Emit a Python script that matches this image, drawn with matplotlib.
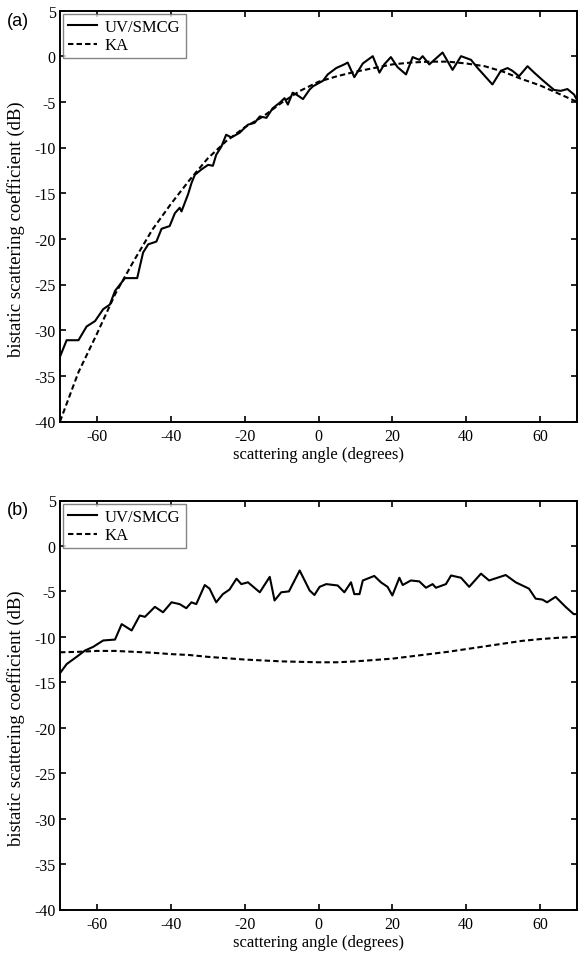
import matplotlib
matplotlib.use("Agg")
import matplotlib.pyplot as plt

plt.rcParams['font.family'] = ['Liberation Serif', 'DejaVu Serif']

# ---------------- Panel (a) ----------------
a_uv_angle = [-70, -68.2, -65, -62.8, -60.5, -58.3, -56.5, -55.1, -52.4, -49.1, -47.5, -46.1,
              -43.9, -42.5, -40.3, -38.9, -37.6, -37.1, -35.3, -34.4, -33.5, -31.7, -29.9,
              -28.6, -27.7, -26.3, -25.0, -23.6, -21.4, -19.1, -17.3, -15.9, -14.1, -12.4,
              -10.5, -9.2, -8.3, -7.0, -6.0, -4.2, -2.4, -1.5, 1.2, 2.5, 4.8, 7.0, 7.9, 9.7,
              12.0, 14.7, 16.5, 17.8, 19.6, 21.4, 23.7, 25.5, 27.3, 28.2, 30.0, 33.6, 36.3,
              38.6, 41.3, 43.1, 47.1, 49.4, 51.2, 52.5, 54.3, 56.6, 58.4, 60.6, 63.8, 65.6,
              67.4, 69.2, 70]
a_uv_db = [-32.9, -31.1, -31.1, -29.6, -29.0, -27.7, -27.2, -25.7, -24.3, -24.3, -21.5, -20.6,
           -20.3, -18.9, -18.6, -17.2, -16.6, -17.0, -15.1, -13.9, -13.0, -12.4, -11.9,
           -12.0, -10.8, -9.9, -8.6, -8.9, -8.4, -7.5, -7.3, -6.6, -6.75, -5.7,
           -5.1, -4.6, -5.3, -4.0, -4.2, -4.7, -3.65, -3.3, -2.7, -2.0, -1.3, -0.9, -0.7, -2.3,
           -0.8, 0.0, -1.8, -0.9, -0.1, -1.2, -2.0, -0.1, -0.4, 0.0, -0.9, 0.4, -1.5,
           0.0, -0.4, -1.3, -3.1, -1.6, -1.3, -1.6, -2.2, -1.1, -1.8, -2.6, -3.7, -3.8,
           -3.6, -4.2, -4.8]

a_ka_angle = [-70, -65, -60, -55, -50, -45, -40, -35, -30, -25, -20, -15, -10, -5, 0, 5, 10,
              15, 20, 25, 30, 35, 40, 45, 50, 55, 60, 65, 70]
a_ka_db = [-40.0, -34.6, -30.4, -26.0, -22.4, -19.0, -16.2, -13.6, -11.2, -9.3, -7.8, -6.6,
           -5.1, -3.8, -2.8, -2.2, -1.7, -1.3, -0.9, -0.7, -0.6, -0.6, -0.8, -1.1, -1.7,
           -2.5, -3.2, -4.1, -5.0]

# ---------------- Panel (b) ----------------
b_uv_angle = [-70, -68.2, -65.5, -63.2, -61.0, -58.3, -55.1, -53.3, -50.6, -48.4, -47.0, -44.3,
              -42.1, -39.8, -37.6, -35.8, -34.4, -33.1, -30.8, -29.5, -27.7, -25.9, -24.1,
              -22.2, -20.9, -19.1, -15.9, -13.2, -11.9, -10.1, -8.0, -5.1, -2.4, -1.1, 0.3,
              2.1, 5.2, 7.0, 8.8, 9.7, 11.1, 12.0, 15.1, 16.9, 18.7, 20.0, 21.9, 22.8, 25.0,
              27.3, 29.1, 30.9, 31.8, 34.5, 35.9, 38.6, 40.8, 44.0, 46.2, 50.7, 53.4, 57.0,
              58.8, 60.6, 61.9, 64.2, 66.9, 69.1, 70]
b_uv_db = [-14.0, -13.0, -12.2, -11.5, -11.1, -10.4, -10.3, -8.6, -9.3, -7.65, -7.8, -6.7,
           -7.3, -6.2, -6.4, -6.85, -6.2, -6.4, -4.3, -4.7, -6.2, -5.3, -4.8,
           -3.6, -4.2, -4.0, -5.1, -3.4, -6.0, -5.1, -5.0, -2.7, -4.9, -5.4, -4.5,
           -4.2, -4.35, -5.1, -4.0, -5.3, -5.3, -3.8, -3.3, -4.0, -4.5, -5.45, -3.5, -4.3, -3.8,
           -3.9, -4.6, -4.2, -4.6, -4.2, -3.25, -3.5, -4.5, -3.05, -3.8, -3.2, -4.0, -4.7,
           -5.8, -5.9, -6.2, -5.6, -6.7, -7.5, -7.5]

b_ka_angle = [-70, -65, -60, -55, -50, -45, -40, -35, -30, -25, -20, -15, -10, -5, 0, 5, 10,
              15, 20, 25, 30, 35, 40, 45, 50, 55, 60, 65, 70]
b_ka_db = [-11.7, -11.65, -11.55, -11.55, -11.65, -11.75, -11.9, -12.0, -12.2, -12.35, -12.5,
           -12.6, -12.7, -12.75, -12.8, -12.8, -12.7, -12.55, -12.4, -12.15, -11.9, -11.65,
           -11.35, -11.05, -10.75, -10.45, -10.25, -10.1, -10.0]

x_ticks = [-60, -40, -20, 0, 20, 40, 60]
y_ticks = [-40, -35, -30, -25, -20, -15, -10, -5, 0, 5]
y_ticklabels = ['-40', '-35', '-30', '-25', '-20', '-15', '-10', '-5', '0', '5']
x_ticklabels = ['-60', '-40', '-20', '0', '20', '40', '60']

W, H = 578, 954
fig = plt.figure(figsize=(W / 100, H / 100), dpi=100)

def make_ax(top_px, bottom_px):
    left = 60 / W
    right = 577 / W
    b = 1 - bottom_px / H
    t = 1 - top_px / H
    return fig.add_axes([left, b, right - left, t - b])

ax1 = make_ax(11.5, 422.5)
ax2 = make_ax(501.5, 910.5)

panels = [
    (ax1, a_uv_angle, a_uv_db, a_ka_angle, a_ka_db, '(a)', 11.5),
    (ax2, b_uv_angle, b_uv_db, b_ka_angle, b_ka_db, '(b)', 501.5),
]

for ax, ua, ud, ka, kd, lab, top_px in panels:
    ax.plot(ua, ud, color='black', lw=1.5, ls='-', label='UV/SMCG')
    ax.plot(ka, kd, color='black', lw=1.5, ls=(0, (2.6, 1.5)), label='KA')
    ax.set_xlim(-70, 70)
    ax.set_ylim(-40, 5)
    ax.set_xticks(x_ticks)
    ax.set_xticklabels(x_ticklabels)
    ax.set_yticks(y_ticks)
    ax.set_yticklabels(y_ticklabels)
    ax.tick_params(direction='in', top=True, right=True, length=4, width=1.2,
                   labelsize=11.5, colors='black')
    ax.tick_params(axis='x', pad=5)
    ax.tick_params(axis='y', pad=3)
    for sp in ax.spines.values():
        sp.set_linewidth(1.4)
    ax.set_xlabel('scattering angle (degrees)', fontsize=12, labelpad=1)
    ax.set_ylabel('bistatic scattering coefficient (dB)', fontsize=13.5, labelpad=2)
    ax.yaxis.set_label_coords(-0.068, 0.47)
    leg = ax.legend(loc='upper left', fontsize=12, frameon=True, fancybox=False,
                    borderpad=0.3, handlelength=1.7, handletextpad=0.5,
                    labelspacing=0.15, borderaxespad=0.2)
    leg.get_frame().set_edgecolor('#666666')
    leg.get_frame().set_linewidth(1.0)
    fig.text(7 / W, 1 - (top_px + 9.5) / H, lab, fontsize=13,
             family=['Liberation Sans', 'DejaVu Sans'], ha='left', va='center')

fig.savefig('out.png', dpi=100, facecolor='white')
